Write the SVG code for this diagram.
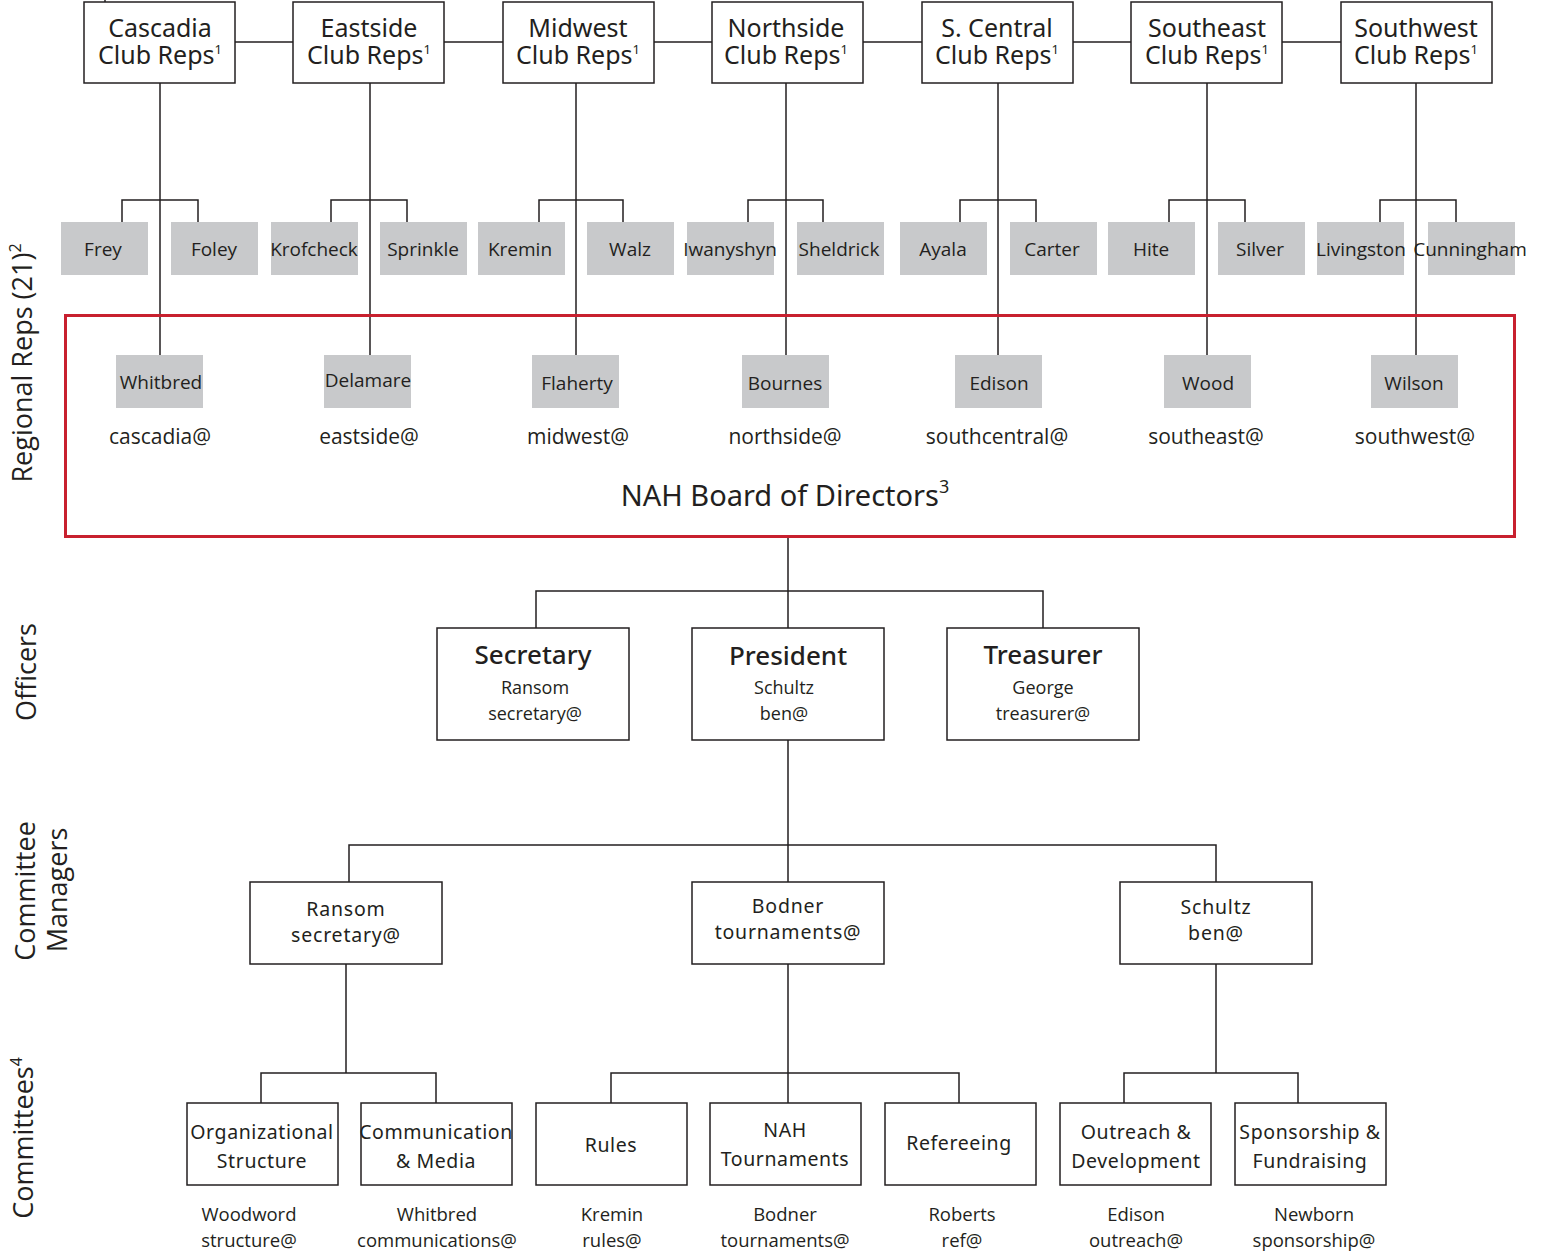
<svg xmlns="http://www.w3.org/2000/svg" width="1544" height="1251" viewBox="0 0 1544 1251">
<style>
.bx{fill:#fff;stroke:#231f20;stroke-width:1.5}
.gr{fill:#c8c9cb}
.ln{fill:none;stroke:#231f20;stroke-width:1.5}
.red{fill:none;stroke:#c8202f;stroke-width:3}
text{fill:#231f20;text-anchor:middle}
.t1{font-family:"Noto Sans","Open Sans",sans-serif;font-size:25px}
.g{font-family:"Open Sans","Noto Sans",sans-serif;font-size:19px}
.em{font-family:"Open Sans","Noto Sans",sans-serif;font-size:21px}
.bd{font-family:"Noto Sans","Open Sans",sans-serif;font-size:29px}
.ot{font-family:"Noto Sans","Open Sans",sans-serif;font-size:26px;font-weight:500}
.os{font-family:"Open Sans","Noto Sans",sans-serif;font-size:18px}
.mg{font-family:"Noto Sans","Open Sans",sans-serif;font-size:19.5px;letter-spacing:0.8px}
.cm{font-family:"Noto Sans","Open Sans",sans-serif;font-size:19.5px;letter-spacing:0.6px}
.cn{font-family:"Open Sans","Noto Sans",sans-serif;font-size:18.5px}
.lb{font-family:"Open Sans","Noto Sans",sans-serif;font-size:27px}
</style>

<g id="connectors">
<path class="ln" d="M105 0V3"/>
<path class="ln" d="M235 42H293M444 42H503M654 42H712M863 42H922M1073 42H1131M1282 42H1341"/>
<path class="ln" d="M160 83V355M370 83V355M576 83V355M786 83V355M998 83V355M1207 83V355M1416 83V355"/>
<path class="ln" d="M122 222V200H198V222"/>
<path class="ln" d="M331 222V200H407V222"/>
<path class="ln" d="M539 222V200H623V222"/>
<path class="ln" d="M748 222V200H823V222"/>
<path class="ln" d="M960 222V200H1036V222"/>
<path class="ln" d="M1169 222V200H1245V222"/>
<path class="ln" d="M1380 222V200H1456V222"/>
<path class="ln" d="M788 537V628M536 628V591H1043V628"/>
<path class="ln" d="M788 740V882M349 882V845H1216V882"/>
<path class="ln" d="M346 964V1073M261 1103V1073H436V1103"/>
<path class="ln" d="M788 964V1103M611 1103V1073H959V1103"/>
<path class="ln" d="M1216 964V1073M1124 1103V1073H1298V1103"/>
</g>

<g id="side-labels">
<text class="lb" transform="translate(32,363) rotate(-90)">Regional Reps (21)<tspan font-size="16" dy="-11">2</tspan></text>
<text class="lb" transform="translate(36,672) rotate(-90)">Officers</text>
<text class="lb" transform="translate(35,891) rotate(-90)">Committee</text>
<text class="lb" transform="translate(67,890) rotate(-90)">Managers</text>
<text class="lb" transform="translate(33,1138) rotate(-90)">Committees<tspan font-size="16" dy="-11">4</tspan></text>
</g>

<g id="region-cascadia"><rect class="bx" x="84" y="2" width="151" height="81"/><text class="t1" x="160" y="37">Cascadia</text><text class="t1" x="160" y="64">Club Reps<tspan font-size="13" dy="-10">1</tspan></text></g>
<g id="region-eastside"><rect class="bx" x="293" y="2" width="151" height="81"/><text class="t1" x="369" y="37">Eastside</text><text class="t1" x="369" y="64">Club Reps<tspan font-size="13" dy="-10">1</tspan></text></g>
<g id="region-midwest"><rect class="bx" x="503" y="2" width="151" height="81"/><text class="t1" x="578" y="37">Midwest</text><text class="t1" x="578" y="64">Club Reps<tspan font-size="13" dy="-10">1</tspan></text></g>
<g id="region-northside"><rect class="bx" x="712" y="2" width="151" height="81"/><text class="t1" x="786" y="37">Northside</text><text class="t1" x="786" y="64">Club Reps<tspan font-size="13" dy="-10">1</tspan></text></g>
<g id="region-scentral"><rect class="bx" x="922" y="2" width="151" height="81"/><text class="t1" x="997" y="37">S. Central</text><text class="t1" x="997" y="64">Club Reps<tspan font-size="13" dy="-10">1</tspan></text></g>
<g id="region-southeast"><rect class="bx" x="1131" y="2" width="151" height="81"/><text class="t1" x="1207" y="37">Southeast</text><text class="t1" x="1207" y="64">Club Reps<tspan font-size="13" dy="-10">1</tspan></text></g>
<g id="region-southwest"><rect class="bx" x="1341" y="2" width="151" height="81"/><text class="t1" x="1416" y="37">Southwest</text><text class="t1" x="1416" y="64">Club Reps<tspan font-size="13" dy="-10">1</tspan></text></g>

<g id="rep-frey"><rect class="gr" x="61" y="222" width="87" height="53"/><text class="g" x="103" y="256">Frey</text></g>
<g id="rep-foley"><rect class="gr" x="171" y="222" width="87" height="53"/><text class="g" x="214" y="256">Foley</text></g>
<g id="rep-krofcheck"><rect class="gr" x="271" y="222" width="87" height="53"/><text class="g" x="314" y="256">Krofcheck</text></g>
<g id="rep-sprinkle"><rect class="gr" x="380" y="222" width="87" height="53"/><text class="g" x="423" y="256">Sprinkle</text></g>
<g id="rep-kremin"><rect class="gr" x="478" y="222" width="87" height="53"/><text class="g" x="520" y="256">Kremin</text></g>
<g id="rep-walz"><rect class="gr" x="587" y="222" width="87" height="53"/><text class="g" x="630" y="256">Walz</text></g>
<g id="rep-iwanyshyn"><rect class="gr" x="687" y="222" width="87" height="53"/><text class="g" x="730" y="256">Iwanyshyn</text></g>
<g id="rep-sheldrick"><rect class="gr" x="797" y="222" width="87" height="53"/><text class="g" x="839" y="256">Sheldrick</text></g>
<g id="rep-ayala"><rect class="gr" x="900" y="222" width="87" height="53"/><text class="g" x="943" y="256">Ayala</text></g>
<g id="rep-carter"><rect class="gr" x="1010" y="222" width="87" height="53"/><text class="g" x="1052" y="256">Carter</text></g>
<g id="rep-hite"><rect class="gr" x="1108" y="222" width="87" height="53"/><text class="g" x="1151" y="256">Hite</text></g>
<g id="rep-silver"><rect class="gr" x="1218" y="222" width="87" height="53"/><text class="g" x="1260" y="256">Silver</text></g>
<g id="rep-livingston"><rect class="gr" x="1317" y="222" width="87" height="53"/><text class="g" x="1361" y="256">Livingston</text></g>
<g id="rep-cunningham"><rect class="gr" x="1428" y="222" width="87" height="53"/><text class="g" x="1470" y="256">Cunningham</text></g>

<g id="board">
<rect class="red" x="65.5" y="315.5" width="1449" height="221"/>
<text class="bd" x="785" y="506">NAH Board of Directors<tspan font-size="18" dy="-13">3</tspan></text>
</g>

<g id="dir-whitbred"><rect class="gr" x="116" y="355" width="87" height="53"/><text class="g" x="161" y="389">Whitbred</text><text class="em" x="160" y="444">cascadia@</text></g>
<g id="dir-delamare"><rect class="gr" x="324" y="355" width="87" height="53"/><text class="g" x="368" y="387">Delamare</text><text class="em" x="369" y="444">eastside@</text></g>
<g id="dir-flaherty"><rect class="gr" x="532" y="355" width="87" height="53"/><text class="g" x="577" y="390">Flaherty</text><text class="em" x="578" y="444">midwest@</text></g>
<g id="dir-bournes"><rect class="gr" x="742" y="355" width="87" height="53"/><text class="g" x="785" y="390">Bournes</text><text class="em" x="785" y="444">northside@</text></g>
<g id="dir-edison"><rect class="gr" x="955" y="355" width="87" height="53"/><text class="g" x="999" y="390">Edison</text><text class="em" x="997" y="444">southcentral@</text></g>
<g id="dir-wood"><rect class="gr" x="1164" y="355" width="87" height="53"/><text class="g" x="1208" y="390">Wood</text><text class="em" x="1206" y="444">southeast@</text></g>
<g id="dir-wilson"><rect class="gr" x="1371" y="355" width="87" height="53"/><text class="g" x="1414" y="390">Wilson</text><text class="em" x="1415" y="444">southwest@</text></g>

<g id="off-secretary"><rect class="bx" x="437" y="628" width="192" height="112"/><text class="ot" x="533" y="664">Secretary</text><text class="os" x="535" y="694">Ransom</text><text class="os" x="535" y="720">secretary@</text></g>
<g id="off-president"><rect class="bx" x="692" y="628" width="192" height="112"/><text class="ot" x="788" y="665">President</text><text class="os" x="784" y="694">Schultz</text><text class="os" x="784" y="720">ben@</text></g>
<g id="off-treasurer"><rect class="bx" x="947" y="628" width="192" height="112"/><text class="ot" x="1043" y="664">Treasurer</text><text class="os" x="1043" y="694">George</text><text class="os" x="1043" y="720">treasurer@</text></g>

<g id="mgr-ransom"><rect class="bx" x="250" y="882" width="192" height="82"/><text class="mg" x="346" y="916">Ransom</text><text class="mg" x="346" y="942">secretary@</text></g>
<g id="mgr-bodner"><rect class="bx" x="692" y="882" width="192" height="82"/><text class="mg" x="788" y="913">Bodner</text><text class="mg" x="788" y="939">tournaments@</text></g>
<g id="mgr-schultz"><rect class="bx" x="1120" y="882" width="192" height="82"/><text class="mg" x="1216" y="914">Schultz</text><text class="mg" x="1216" y="940">ben@</text></g>

<g id="com-org"><rect class="bx" x="187" y="1103" width="151" height="82"/><text class="cm" x="262" y="1139">Organizational</text><text class="cm" x="262" y="1168">Structure</text><text class="cn" x="249" y="1221">Woodword</text><text class="cn" x="249" y="1247">structure@</text></g>
<g id="com-comm"><rect class="bx" x="361" y="1103" width="151" height="82"/><text class="cm" x="436" y="1139">Communication</text><text class="cm" x="436" y="1168">&amp; Media</text><text class="cn" x="437" y="1221">Whitbred</text><text class="cn" x="437" y="1247">communications@</text></g>
<g id="com-rules"><rect class="bx" x="536" y="1103" width="151" height="82"/><text class="cm" x="611" y="1152">Rules</text><text class="cn" x="612" y="1221">Kremin</text><text class="cn" x="612" y="1247">rules@</text></g>
<g id="com-tourn"><rect class="bx" x="710" y="1103" width="151" height="82"/><text class="cm" x="785" y="1137">NAH</text><text class="cm" x="785" y="1166">Tournaments</text><text class="cn" x="785" y="1221">Bodner</text><text class="cn" x="785" y="1247">tournaments@</text></g>
<g id="com-ref"><rect class="bx" x="885" y="1103" width="151" height="82"/><text class="cm" x="959" y="1150">Refereeing</text><text class="cn" x="962" y="1221">Roberts</text><text class="cn" x="962" y="1247">ref@</text></g>
<g id="com-outreach"><rect class="bx" x="1060" y="1103" width="151" height="82"/><text class="cm" x="1136" y="1139">Outreach &amp;</text><text class="cm" x="1136" y="1168">Development</text><text class="cn" x="1136" y="1221">Edison</text><text class="cn" x="1136" y="1247">outreach@</text></g>
<g id="com-sponsor"><rect class="bx" x="1235" y="1103" width="151" height="82"/><text class="cm" x="1310" y="1139">Sponsorship &amp;</text><text class="cm" x="1310" y="1168">Fundraising</text><text class="cn" x="1314" y="1221">Newborn</text><text class="cn" x="1314" y="1247">sponsorship@</text></g>
</svg>
